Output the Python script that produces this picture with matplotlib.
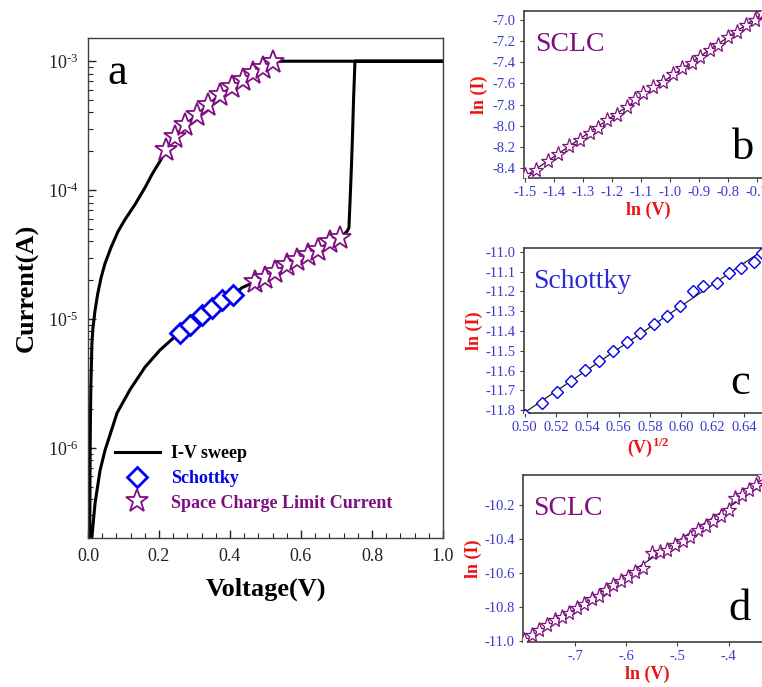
import numpy as np
import matplotlib
matplotlib.use("Agg")
import matplotlib.pyplot as plt
from matplotlib.ticker import FixedLocator, MultipleLocator, LogLocator, NullFormatter

plt.rcParams['font.family'] = ['Liberation Serif', 'DejaVu Serif']
plt.rcParams['mathtext.fontset'] = 'custom'
plt.rcParams['mathtext.rm'] = 'Liberation Serif'
plt.rcParams['mathtext.bf'] = 'Liberation Serif:bold'

# ---------------- data: panel a ----------------
iv_v = [0.010, 0.020, 0.034, 0.048, 0.082, 0.118, 0.161, 0.203, 0.245, 0.259, 0.287, 0.321,
        0.349, 0.377, 0.408, 0.434, 0.470, 0.499, 0.527, 0.561, 0.589, 0.620, 0.648, 0.682,
        0.710, 0.730, 0.735, 0.738, 0.742, 0.745, 0.748, 0.752, 1.000,
        0.546, 0.521, 0.493, 0.465, 0.437, 0.406, 0.372, 0.338, 0.307, 0.273, 0.245, 0.220,
        0.203, 0.180, 0.161, 0.132, 0.104, 0.085, 0.065, 0.048, 0.037, 0.027, 0.020, 0.014,
        0.011, 0.008, 0.006, 0.005]
iv_i = [1.9e-7, 3.75e-7, 6.7e-7, 9.6e-7, 1.87e-6, 2.82e-6, 4.25e-6, 5.75e-6, 7.3e-6, 7.8e-6, 8.97e-6, 1.07e-5,
        1.22e-5, 1.40e-5, 1.53e-5, 1.75e-5, 1.94e-5, 2.08e-5, 2.31e-5, 2.62e-5, 2.87e-5, 3.13e-5, 3.43e-5, 3.95e-5,
        4.25e-5, 4.8e-5, 5.1e-5, 8.0e-5, 1.5e-4, 2.6e-4, 5.0e-4, 1.0e-3, 1.0e-3,
        1.0e-3, 9.82e-4, 8.83e-4, 8.07e-4, 7.12e-4, 6.28e-4, 5.45e-4, 4.56e-4, 3.81e-4, 3.19e-4, 2.58e-4, 2.04e-4,
        1.68e-4, 1.32e-4, 1.05e-4, 7.7e-5, 5.9e-5, 4.8e-5, 3.6e-5, 2.7e-5, 2.1e-5, 1.55e-5, 1.17e-5, 8.6e-6,
        6.5e-6, 3.0e-6, 1.0e-6, 1.9e-7]

sch_v = [0.259, 0.287, 0.321, 0.349, 0.377, 0.408]
sch_i = [7.8e-6, 8.97e-6, 1.07e-5, 1.22e-5, 1.40e-5, 1.53e-5]

sclc_hi_v = [0.220, 0.245, 0.273, 0.307, 0.338, 0.372, 0.406, 0.437, 0.465, 0.493, 0.521]
sclc_hi_i = [2.04e-4, 2.58e-4, 3.19e-4, 3.81e-4, 4.56e-4, 5.45e-4, 6.28e-4, 7.12e-4, 8.07e-4, 8.83e-4, 9.82e-4]

sclc_lo_v = [0.470, 0.499, 0.527, 0.561, 0.589, 0.620, 0.648, 0.682, 0.710]
sclc_lo_i = [1.94e-5, 2.08e-5, 2.31e-5, 2.62e-5, 2.87e-5, 3.13e-5, 3.43e-5, 3.95e-5, 4.25e-5]

a_yticks = [1e-6, 1e-5, 1e-4, 1e-3]
a_ylabels = [r'$\mathregular{10^{\text{-}6}}$', r'$\mathregular{10^{\text{-}5}}$',
             r'$\mathregular{10^{\text{-}4}}$', r'$\mathregular{10^{\text{-}3}}$']
a_xticks = [0.0, 0.2, 0.4, 0.6, 0.8, 1.0]

# ---------------- data: panel b (SCLC, high) ----------------
b_lnv = [-1.500, -1.460, -1.420, -1.385, -1.347, -1.310, -1.276, -1.247, -1.218, -1.184, -1.149, -1.121,
         -1.092, -1.057, -1.023, -0.991, -0.960, -0.925, -0.897, -0.862, -0.833, -0.799, -0.770, -0.736,
         -0.707, -0.684]
b_lni = [-8.470, -8.415, -8.337, -8.264, -8.195, -8.132, -8.069, -8.022, -7.943, -7.896, -7.818, -7.748,
         -7.692, -7.635, -7.582, -7.509, -7.456, -7.409, -7.346, -7.283, -7.236, -7.164, -7.110, -7.047,
         -7.000, -6.937]
b_xticks = [-1.5, -1.4, -1.3, -1.2, -1.1, -1.0, -0.9, -0.8, -0.7]
b_yticks = [-8.4, -8.2, -8.0, -7.8, -7.6, -7.4, -7.2, -7.0]

# ---------------- data: panel c (Schottky) ----------------
c_sqv = [0.500, 0.511, 0.5205, 0.5296, 0.5386, 0.5475, 0.5567, 0.5652, 0.5737, 0.5829, 0.5908, 0.5993,
         0.6072, 0.6142, 0.6228, 0.6302, 0.6383, 0.6462, 0.6515]
c_lni = [-11.823, -11.764, -11.709, -11.655, -11.599, -11.551, -11.500, -11.456, -11.411, -11.364, -11.323,
         -11.276, -11.200, -11.172, -11.158, -11.108, -11.083, -11.049, -11.003]
c_xticks = [0.50, 0.52, 0.54, 0.56, 0.58, 0.60, 0.62, 0.64]
c_yticks = [-11.8, -11.7, -11.6, -11.5, -11.4, -11.3, -11.2, -11.1, -11.0]

# ---------------- data: panel d (SCLC, low) ----------------
d_lnv = [-0.801, -0.785, -0.770, -0.755, -0.740, -0.726, -0.712, -0.697, -0.683, -0.668, -0.654, -0.640,
         -0.625, -0.611, -0.597, -0.582, -0.567, -0.550, -0.535, -0.520, -0.505, -0.490, -0.475, -0.460,
         -0.445, -0.430, -0.415, -0.400, -0.388, -0.374, -0.360, -0.347, -0.335]
d_lni = [-10.989, -10.962, -10.935, -10.902, -10.876, -10.858, -10.835, -10.804, -10.780, -10.752, -10.732,
         -10.700, -10.672, -10.648, -10.620, -10.595, -10.568, -10.483, -10.476, -10.462, -10.437, -10.413,
         -10.389, -10.350, -10.322, -10.296, -10.268, -10.232, -10.158, -10.145, -10.112, -10.085, -10.030]
d_xticks = [-0.7, -0.6, -0.5, -0.4]
d_xlabels = ['-.7', '-.6', '-.5', '-.4']
d_yticks = [-11.0, -10.8, -10.6, -10.4, -10.2]

PURPLE = '#7f0f80'
BLUE = '#0000ee'
TBLUE = '#3b3bcc'
RED = '#ee1111'
SPINE = '#404040'

W, H = 762, 687
fig = plt.figure(figsize=(W / 100, H / 100), dpi=100)


def pos(l, t, r, b):
    return [l / W, 1 - b / H, (r - l) / W, (b - t) / H]


# ---------------- panel a ----------------
ax = fig.add_axes(pos(88, 38, 443, 538))
ax.set_yscale('log')
ax.plot(iv_v, iv_i, color='black', lw=2.2, label='I-V sweep', zorder=2)
ax.plot(sch_v, sch_i, ls='none', marker='D', ms=10, mfc='white', mec=BLUE, mew=2.0,
        label='Schottky', zorder=3)
ax.plot(sclc_hi_v, sclc_hi_i, ls='none', marker='*', ms=17, mfc='white', mec=PURPLE, mew=1.3,
        label='Space Charge Limit Current', zorder=3)
ax.plot(sclc_lo_v, sclc_lo_i, ls='none', marker='*', ms=17, mfc='white', mec=PURPLE, mew=1.3, zorder=3)
ax.set_xlim(0, 1.0)
ax.set_ylim(2.0e-7, 10 ** -2.82)
ax.xaxis.set_major_locator(FixedLocator(a_xticks))
ax.xaxis.set_minor_locator(MultipleLocator(0.04))
ax.set_xticklabels(['%.1f' % t for t in a_xticks])
ax.yaxis.set_major_locator(FixedLocator(a_yticks))
ax.set_yticklabels(a_ylabels)
ax.yaxis.set_minor_locator(LogLocator(base=10, subs=np.arange(2, 10)))
ax.yaxis.set_minor_formatter(NullFormatter())
ax.tick_params(which='both', direction='in', top=False, right=False, labelsize=13, colors='#222222')
ax.tick_params(which='major', length=6, width=1.0, pad=7)
ax.tick_params(which='minor', length=3.5, width=0.8)
for s in ax.spines.values():
    s.set_color(SPINE)
    s.set_linewidth(1.0)
ax.set_xlabel('Voltage(V)', fontsize=19, fontweight='bold', labelpad=9)
ax.set_ylabel('Current(A)', fontsize=19, fontweight='bold')
ax.yaxis.set_label_coords(-0.14, 0.5)
ax.text(0.055, 0.93, 'a', transform=ax.transAxes, fontsize=32, va='center', ha='left')
leg = ax.legend(loc='upper left', bbox_to_anchor=(0.075, 0.185), frameon=False,
                prop={'weight': 'bold', 'size': 13}, handlelength=2.5, handletextpad=0.6,
                labelspacing=0.42, borderpad=0, borderaxespad=0, numpoints=1)
for txt, col in zip(leg.get_texts(), ['black', BLUE, PURPLE]):
    txt.set_color(col)


def style_small(axs):
    for s in axs.spines.values():
        s.set_color(SPINE)
        s.set_linewidth(1.2)
    axs.tick_params(which='both', direction='out', length=3, width=0.8, labelsize=10.5,
                    labelcolor=TBLUE, color=SPINE, pad=3, top=False, right=False)


# ---------------- panel b ----------------
axb = fig.add_axes(pos(524, 11, 772, 178))
pb = np.polyfit(b_lnv, b_lni, 1)
axb.plot([b_lnv[0], b_lnv[-1]], np.polyval(pb, [b_lnv[0], b_lnv[-1]]), color='#222222', lw=0.9, zorder=2)
axb.plot(b_lnv, b_lni, ls='none', marker='*', ms=11, mfc='white', mec=PURPLE, mew=0.9, zorder=3)
axb.set_xlim(-1.503, -0.648)
axb.set_ylim(-8.494, -6.915)
axb.set_xticks(b_xticks)
axb.set_xticklabels(['%.1f' % t for t in b_xticks])
axb.set_yticks(b_yticks)
axb.set_yticklabels(['%.1f' % t for t in b_yticks])
style_small(axb)
axb.set_xlabel('ln (V)', fontsize=13, fontweight='bold', color=RED, labelpad=2)
axb.set_ylabel('ln (I)', fontsize=13, fontweight='bold', color=RED)
axb.yaxis.set_label_coords(-0.145, 0.5)
axb.text(11 / 248, 0.80, 'SCLC', transform=axb.transAxes, fontsize=20, color=PURPLE, va='center')
axb.text(219 / 248, 0.18, 'b', transform=axb.transAxes, fontsize=32, va='center', ha='center')
axb.patch.set_alpha(0)

# ---------------- panel c ----------------
axc = fig.add_axes(pos(524, 248, 772, 413))
pc = np.polyfit(c_sqv, c_lni, 1)
axc.plot([c_sqv[0], c_sqv[-1]], np.polyval(pc, [c_sqv[0], c_sqv[-1]]), color='#222222', lw=0.9, zorder=2)
axc.plot(c_sqv, c_lni, ls='none', marker='D', ms=6.5, mfc='white', mec=BLUE, mew=1.0, zorder=3)
axc.set_xlim(0.4995, 0.658)
axc.set_ylim(-11.815, -10.98)
axc.set_xticks(c_xticks)
axc.set_xticklabels(['%.2f' % t for t in c_xticks])
axc.set_yticks(c_yticks)
axc.set_yticklabels(['%.1f' % t for t in c_yticks])
style_small(axc)
axc.set_xlabel(r'(V)$^{\mathbf{1/2}}$', fontsize=13, fontweight='bold', color=RED, labelpad=1)
axc.set_ylabel('ln (I)', fontsize=13, fontweight='bold', color=RED)
axc.yaxis.set_label_coords(-0.165, 0.5)
axc.text(9 / 248, 0.80, 'Schottky', transform=axc.transAxes, fontsize=20, color='#2a2ad8', va='center')
axc.text(216 / 248, 0.18, 'c', transform=axc.transAxes, fontsize=32, va='center', ha='center')
axc.patch.set_alpha(0)

# ---------------- panel d ----------------
axd = fig.add_axes(pos(523, 475, 772, 642))
pd_ = np.polyfit(d_lnv, d_lni, 1)
axd.plot([d_lnv[0], d_lnv[-1]], np.polyval(pd_, [d_lnv[0], d_lnv[-1]]), color='#222222', lw=0.9, zorder=2)
axd.plot(d_lnv, d_lni, ls='none', marker='*', ms=11, mfc='white', mec=PURPLE, mew=0.9, zorder=3)
axd.set_xlim(-0.802, -0.315)
axd.set_ylim(-11.003, -10.025)
axd.set_xticks(d_xticks)
axd.set_xticklabels(d_xlabels)
axd.set_yticks(d_yticks)
axd.set_yticklabels(['%.1f' % t for t in d_yticks])
style_small(axd)
axd.set_xlabel('ln (V)', fontsize=13, fontweight='bold', color=RED, labelpad=2)
axd.set_ylabel('ln (I)', fontsize=13, fontweight='bold', color=RED)
axd.yaxis.set_label_coords(-0.165, 0.5)
axd.text(10 / 249, 0.80, 'SCLC', transform=axd.transAxes, fontsize=20, color=PURPLE, va='center')
axd.text(217 / 249, 0.20, 'd', transform=axd.transAxes, fontsize=32, va='center', ha='center')
axd.patch.set_alpha(0)

fig.savefig('out.png', dpi=100)
